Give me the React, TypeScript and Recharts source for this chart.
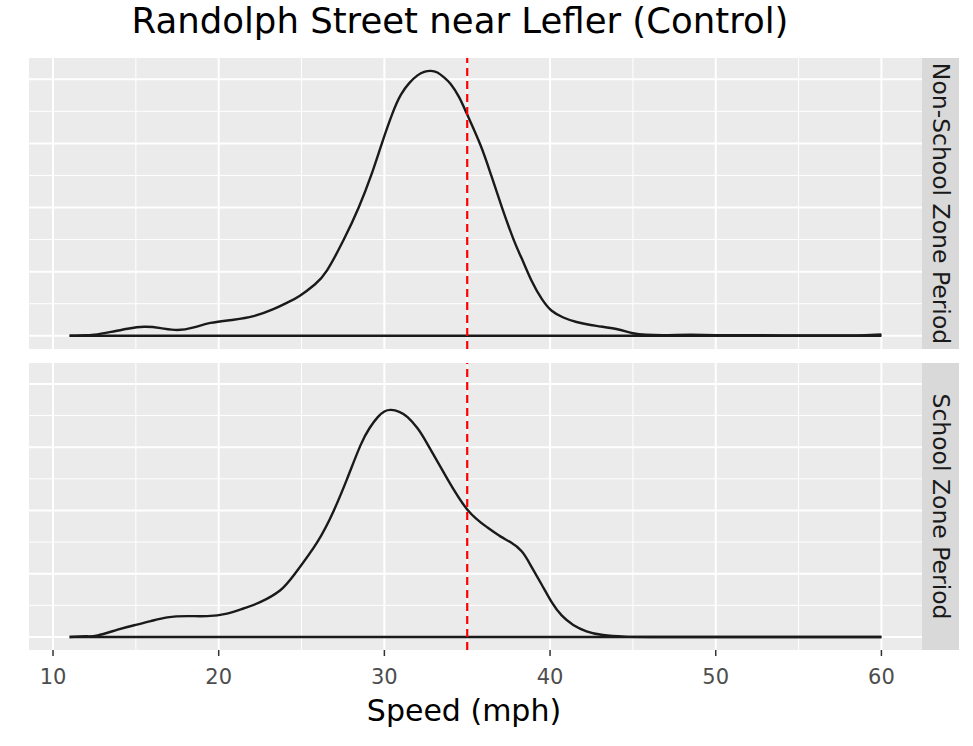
import React from "react";
import {
  LineChart,
  Line,
  XAxis,
  YAxis,
  CartesianGrid,
  ReferenceLine,
} from "recharts";

const titleText = "Randolph Street near Lefler (Control)";
const xLabel = "Speed (mph)";
const panelLabels = ["Non-School Zone Period", "School Zone Period"];
const speedLimit = 35;

const xTicks = [10, 20, 30, 40, 50, 60];
const xMinor = [15, 25, 35, 45, 55];
const yMajor = [0, 0.02, 0.04, 0.06, 0.08];
const yMinor = [0.01, 0.03, 0.05, 0.07];

// density (speed in mph, density per mph)
const nonSchoolSpeed = [
  11, 12, 12.5, 13.5, 14.5, 15.5, 16.5, 17.5, 18.5, 19.5, 20.9, 22.1, 23.3,
  24.2, 24.9, 25.8, 26.55, 27.55, 28.45, 29.2, 29.85, 30.5, 31, 31.5, 32, 32.4,
  32.8, 33.2, 33.6, 34, 34.5, 35, 35.8, 36.45, 37.1, 37.8, 38.3, 38.9, 39.5,
  40.1, 40.8, 41.6, 42.8, 44, 45, 45.8, 47, 48.5, 50, 52, 54, 56, 58, 59, 60,
];
const nonSchoolDensity = [
  0, 0.0002, 0.0003, 0.0012, 0.0022, 0.0028, 0.0024, 0.0018, 0.0026, 0.004,
  0.005, 0.0061, 0.0083, 0.0105, 0.0125, 0.016, 0.0205, 0.03, 0.04, 0.05, 0.06,
  0.0695, 0.0752, 0.0788, 0.0812, 0.0823, 0.0826, 0.0821, 0.0806, 0.0785,
  0.0745, 0.069, 0.0595, 0.05, 0.04, 0.03, 0.024, 0.017, 0.0115, 0.0078,
  0.0057, 0.0043, 0.0031, 0.0021, 0.0008, 0.0003, 0.0002, 0.0003, 0.0002,
  0.0002, 0.0001, 0.0001, 0.0001, 0.0002, 0.0004,
];

const schoolSpeed = [
  11, 12, 12.7, 13.9, 14.9, 15.9, 16.9, 18.1, 19.3, 20.5, 21.5, 22.5, 23.7,
  24.6, 25.95, 26.95, 27.75, 28.55, 29.1, 29.6, 30, 30.4, 30.9, 31.4, 32, 32.6,
  33.8, 35.05, 36.2, 37, 37.6, 38.3, 38.9, 39.5, 40.1, 40.7, 41.4, 42.2, 43.2,
  44.5, 46, 50, 55, 60,
];
const schoolDensity = [
  0, 0.0002, 0.0005, 0.0023, 0.0037, 0.005, 0.0062, 0.0066, 0.0066, 0.0074,
  0.009, 0.011, 0.0147, 0.02, 0.03, 0.04, 0.05, 0.0605, 0.066, 0.0695, 0.0713,
  0.0718, 0.0712, 0.0695, 0.066, 0.061, 0.05, 0.04, 0.0347, 0.0318, 0.03,
  0.027, 0.022, 0.0165, 0.011, 0.0068, 0.0038, 0.0018, 0.0006, 0.0001, 0, 0, 0,
  0,
];

const X_DOMAIN = [8.55, 62.45];
const Y_DOMAIN = [-0.004125, 0.086625];
const FONT = "'DejaVu Sans', sans-serif";
const PANEL_LEFT = 29;
const PANEL_WIDTH = 893;

function Panel({ speed, density, top, height, showAxis }) {
  const data = speed.map((s, i) => ({ speed: s, density: density[i] }));
  const axisH = showAxis ? 40 : 0;
  return (
    <div style={{ position: "absolute", left: PANEL_LEFT, top }}>
      <LineChart
        width={PANEL_WIDTH}
        height={height + axisH}
        data={data}
        margin={{ top: 0, right: 0, bottom: 0, left: 0 }}
      >
        <CartesianGrid
          fill="#EBEBEB"
          stroke="#FFFFFF"
          strokeWidth={1}
          horizontalValues={yMinor}
          verticalValues={xMinor}
        />
        <CartesianGrid
          stroke="#FFFFFF"
          strokeWidth={2}
          horizontalValues={yMajor}
          verticalValues={xTicks}
        />
        <XAxis
          dataKey="speed"
          type="number"
          domain={X_DOMAIN}
          ticks={xTicks}
          interval={0}
          hide={!showAxis}
          height={axisH}
          axisLine={false}
          tickSize={6}
          tickMargin={13}
          tickLine={{ stroke: "#333333", strokeWidth: 1.5 }}
          tick={{ fill: "#4D4D4D", fontSize: 21, fontFamily: FONT }}
          allowDataOverflow
        />
        <YAxis type="number" domain={Y_DOMAIN} hide allowDataOverflow />
        <Line
          dataKey="density"
          type="natural"
          stroke="#1A1A1A"
          strokeWidth={2.4}
          dot={false}
          isAnimationActive={false}
        />
        <ReferenceLine
          segment={[
            { x: speed[0], y: 0 },
            { x: speed[speed.length - 1], y: 0 },
          ]}
          stroke="#1A1A1A"
          strokeWidth={2.4}
        />
        <ReferenceLine
          x={speedLimit}
          stroke="#FF0000"
          strokeWidth={2.2}
          strokeDasharray="8 5"
        />
      </LineChart>
    </div>
  );
}

export default function App() {
  const panels = [
    { top: 58, height: 291 },
    { top: 363, height: 287 },
  ];
  return (
    <div
      style={{
        position: "absolute",
        left: 0,
        top: 0,
        width: 973,
        height: 746,
        background: "#FFFFFF",
        fontFamily: FONT,
      }}
    >
      <Panel
        speed={nonSchoolSpeed}
        density={nonSchoolDensity}
        top={panels[0].top}
        height={panels[0].height}
        showAxis={false}
      />
      <Panel
        speed={schoolSpeed}
        density={schoolDensity}
        top={panels[1].top}
        height={panels[1].height}
        showAxis={true}
      />
      <svg
        width={973}
        height={746}
        style={{ position: "absolute", left: 0, top: 0, pointerEvents: "none" }}
      >
        <text
          x={460}
          y={33}
          textAnchor="middle"
          fontSize={35.5}
          fontFamily={FONT}
          fill="#000000"
        >
          {titleText}
        </text>
        <text
          x={464}
          y={721}
          textAnchor="middle"
          fontSize={30}
          fontFamily={FONT}
          fill="#000000"
        >
          {xLabel}
        </text>
        {panels.map((p, i) => {
          const cx = 940.5;
          const cy = p.top + p.height / 2;
          return (
            <g key={i}>
              <rect x={922} y={p.top} width={37} height={p.height} fill="#D9D9D9" />
              <text
                x={cx}
                y={cy}
                textAnchor="middle"
                dominantBaseline="central"
                fontSize={23.5}
                fontFamily={FONT}
                fill="#1A1A1A"
                transform={`rotate(90, ${cx}, ${cy})`}
              >
                {panelLabels[i]}
              </text>
            </g>
          );
        })}
      </svg>
    </div>
  );
}
